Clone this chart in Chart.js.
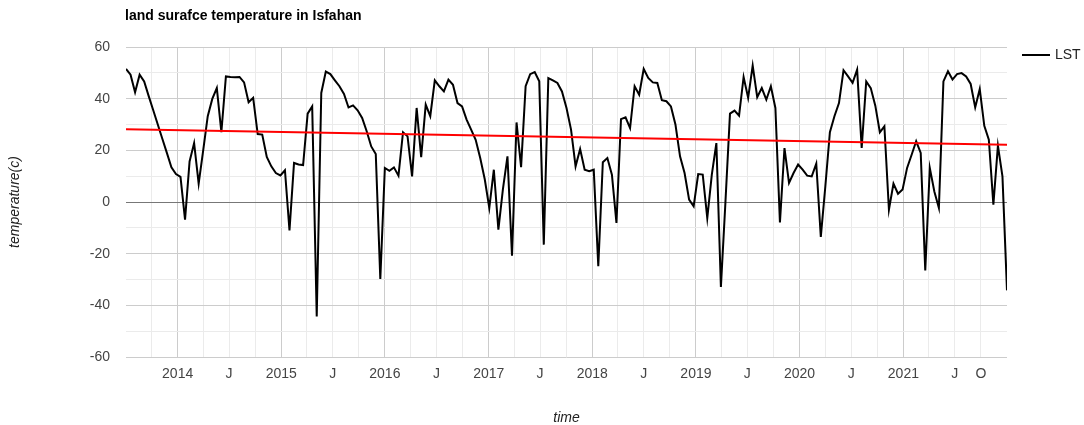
<!DOCTYPE html>
<html>
<head>
<meta charset="utf-8">
<script src="https://cdn.jsdelivr.net/npm/chart.js@4.4.0/dist/chart.umd.min.js"></script>
<style>
  html, body { margin: 0; padding: 0; background: #fff; }
</style>
</head>
<body>
<canvas id="lst-chart" width="1084" height="425"></canvas>
<script>
// 16-day scene dates
var dates = [
  '2013-07-03','2013-07-19','2013-08-04','2013-08-20','2013-09-05','2013-09-21','2013-10-07','2013-10-23','2013-11-08','2013-11-24','2013-12-10','2013-12-26',
  '2014-01-11','2014-01-27','2014-02-12','2014-02-28','2014-03-16','2014-04-01','2014-04-17','2014-05-03','2014-05-19','2014-06-04','2014-06-20','2014-07-06','2014-07-22','2014-08-07','2014-08-23','2014-09-08','2014-09-24','2014-10-10','2014-10-26','2014-11-11','2014-11-27','2014-12-13','2014-12-29',
  '2015-01-14','2015-01-30','2015-02-15','2015-03-03','2015-03-19','2015-04-04','2015-04-20','2015-05-06','2015-05-22','2015-06-07','2015-06-23','2015-07-09','2015-07-25','2015-08-10','2015-08-26','2015-09-11','2015-09-27','2015-10-13','2015-10-29','2015-11-14','2015-11-30','2015-12-16',
  '2016-01-01','2016-01-17','2016-02-02','2016-02-18','2016-03-05','2016-03-21','2016-04-06','2016-04-22','2016-05-08','2016-05-24','2016-06-09','2016-06-25','2016-07-11','2016-07-27','2016-08-12','2016-08-28','2016-09-13','2016-09-29','2016-10-15','2016-10-31','2016-11-16','2016-12-02','2016-12-18',
  '2017-01-03','2017-01-19','2017-02-04','2017-02-20','2017-03-08','2017-03-24','2017-04-09','2017-04-25','2017-05-11','2017-05-27','2017-06-12','2017-06-28','2017-07-14','2017-07-30','2017-08-15','2017-08-31','2017-09-16','2017-10-02','2017-10-18','2017-11-03','2017-11-19','2017-12-05','2017-12-21',
  '2018-01-06','2018-01-22','2018-02-07','2018-02-23','2018-03-11','2018-03-27','2018-04-12','2018-04-28','2018-05-14','2018-05-30','2018-06-15','2018-07-01','2018-07-17','2018-08-02','2018-08-18','2018-09-03','2018-09-19','2018-10-05','2018-10-21','2018-11-06','2018-11-22','2018-12-08','2018-12-24',
  '2019-01-09','2019-01-25','2019-02-10','2019-02-26','2019-03-14','2019-03-30','2019-04-15','2019-05-01','2019-05-17','2019-06-02','2019-06-18','2019-07-04','2019-07-20','2019-08-05','2019-08-21','2019-09-06','2019-09-22','2019-10-08','2019-10-24','2019-11-09','2019-11-25','2019-12-11','2019-12-27',
  '2020-01-12','2020-01-28','2020-02-13','2020-02-29','2020-03-16','2020-04-01','2020-04-17','2020-05-03','2020-05-19','2020-06-04','2020-06-20','2020-07-06','2020-07-22','2020-08-07','2020-08-23','2020-09-08','2020-09-24','2020-10-10','2020-10-26','2020-11-11','2020-11-27','2020-12-13','2020-12-29',
  '2021-01-14','2021-01-30','2021-02-15','2021-03-03','2021-03-19','2021-04-04','2021-04-20','2021-05-06','2021-05-22','2021-06-07','2021-06-23','2021-07-09','2021-07-25','2021-08-10','2021-08-26','2021-09-11','2021-09-27','2021-10-13','2021-10-29','2021-11-14','2021-11-30','2021-12-16',
  '2022-01-01'
];

// land surface temperature (c)
var lst = [
  51.5, 49.3, 42.5, 49.3, 46.7, 41, 35.5, 30, 24.5, 19, 13.4, 10.8,
  9.7, -6.8, 15.7, 22.8, 7.1, 20, 33.2, 39.9, 44.1, 27, 48.6, 48.4, 48.3, 48.4, 46.3, 38.6, 40.3, 26.3, 26.1, 17.4, 13.8, 11.2, 10.3,
  12.3, -11, 15.1, 14.5, 14.3, 34.2, 37, -44.3, 42.2, 50.5, 49.5, 47.1, 44.8, 41.8, 36.6, 37.4, 35.5, 32.5, 27.4, 21.5, 18.6, -29.8,
  13.2, 12.1, 13.4, 10.2, 27, 25.4, 9.9, 36.4, 17.4, 37.7, 33.2, 47.1, 44.8, 42.8, 47.4, 45.4, 38.3, 37, 31.9, 28, 24.1, 17, 8.8,
  -2.3, 12.5, -10.7, 5, 17.7, -20.8, 30.8, 13.5, 44.8, 49.5, 50.3, 46.7, -16.5, 48, 47.1, 46.1, 42.8, 36.4, 28, 13.8, 20.5, 12.5, 11.9,
  12.5, -24.9, 15.4, 17, 10.6, -8.1, 32.1, 32.8, 28.6, 44.8, 41.5, 51.5, 48, 46.3, 46.1, 39.4, 39, 37, 29.9, 17.7, 11.2, 0.9, -1.7,
  10.8, 10.6, -6.2, 10.6, 22.8, -32.9, 0, 34.2, 35.4, 33.4, 48.4, 40.3, 52.8, 40.6, 44.1, 39.6, 44.8, 36.4, -7.9, 20.9, 7.4, 11.2, 14.5,
  12.5, 10.2, 9.9, 14.8, -13.5, 6.1, 27, 33.2, 38.3, 51, 48.6, 46.1, 51.2, 20.9, 46.7, 44.1, 37.3, 27, 29.3, -3, 7.1, 3.2, 4.8,
  13.2, 18.3, 23.5, 19, -26.5, 13.2, 4.1, -2.3, 46.7, 50.6, 47.4, 49.5, 49.9, 48.6, 45.7, 36.6, 43.7, 29.5, 24.1, -1, 21.8, 9.9,
  -34.2
];

// linear trend line (end points)
var trendDates = ['2013-07-03', '2022-01-01'];
var trendValues = [28.2, 22.2];

// x axis labels
var xLabelDates = ['2014-01-01','2014-07-01','2015-01-01','2015-07-01','2016-01-01','2016-07-01','2017-01-01','2017-07-01',
  '2018-01-01','2018-07-01','2019-01-01','2019-07-01','2020-01-01','2020-07-01','2021-01-01','2021-07-01','2021-10-01'];
var xLabels = ['2014','J','2015','J','2016','J','2017','J','2018','J','2019','J','2020','J','2021','J','O'];

var chartTitle = 'land surafce temperature in Isfahan';
var seriesName = 'LST';

var FONT = '"Liberation Sans", Arial, sans-serif';
Chart.defaults.font.family = FONT;

var lstPoints = [];
for (var i = 0; i < dates.length; i++) {
  lstPoints.push({ x: Date.parse(dates[i]), y: lst[i] });
}
var trendPoints = [];
for (var j = 0; j < trendDates.length; j++) {
  trendPoints.push({ x: Date.parse(trendDates[j]), y: trendValues[j] });
}

var labelMap = {};
for (var k = 0; k < xLabelDates.length; k++) {
  labelMap[Date.parse(xLabelDates[k])] = xLabels[k];
}

// title + legend drawn on the canvas
var extras = {
  id: 'extras',
  afterDraw: function (chart) {
    var ctx = chart.ctx;
    ctx.save();
    ctx.fillStyle = '#000';
    ctx.font = 'bold 14px ' + FONT;
    ctx.textBaseline = 'middle';
    ctx.textAlign = 'left';
    ctx.fillText(chartTitle, 125, 16);

    ctx.strokeStyle = '#000';
    ctx.lineWidth = 2;
    ctx.beginPath();
    ctx.moveTo(1022, 55);
    ctx.lineTo(1050, 55);
    ctx.stroke();
    ctx.fillStyle = '#222';
    ctx.font = '14px ' + FONT;
    ctx.fillText(seriesName, 1055, 55);
    ctx.restore();
  }
};

new Chart(document.getElementById('lst-chart'), {
  type: 'line',
  data: {
    datasets: [
      {
        label: 'trend',
        data: trendPoints,
        borderColor: '#ff0000',
        borderWidth: 2,
        pointRadius: 0,
        fill: false
      },
      {
        label: seriesName,
        data: lstPoints,
        borderColor: '#000000',
        borderWidth: 2,
        pointRadius: 0,
        tension: 0,
        fill: false
      }
    ]
  },
  options: {
    responsive: false,
    animation: false,
    layout: { padding: { top: 47, right: 77, bottom: 0, left: 0 } },
    plugins: {
      legend: { display: false },
      tooltip: { enabled: false }
    },
    scales: {
      x: {
        type: 'linear',
        min: Date.parse(dates[0]),
        max: Date.parse(dates[dates.length - 1]),
        afterFit: function (s) { s.height = 68; },
        afterBuildTicks: function (s) {
          var ticks = [];
          for (var y = 2013; y <= 2021; y++) {
            for (var m = 0; m < 12; m += 3) {
              var t = Date.UTC(y, m, 1);
              if (t > s.min && t < s.max) ticks.push({ value: t });
            }
          }
          s.ticks = ticks;
        },
        border: { display: false },
        grid: {
          drawTicks: false,
          color: function (ctx) {
            if (!ctx.tick) return '#ebebeb';
            return new Date(ctx.tick.value).getUTCMonth() === 0 ? '#cccccc' : '#ebebeb';
          }
        },
        ticks: {
          autoSkip: false,
          maxRotation: 0,
          padding: 9,
          color: '#444',
          font: { size: 14 },
          callback: function (v) { return labelMap[v] || ''; }
        },
        title: {
          display: true,
          text: 'time',
          color: '#222',
          font: { size: 14, style: 'italic' },
          padding: { top: 0, bottom: -2 }
        }
      },
      y: {
        min: -60,
        max: 60,
        afterFit: function (s) { s.width = 126; },
        border: { display: false },
        grid: {
          drawTicks: false,
          color: function (ctx) {
            if (!ctx.tick) return '#ebebeb';
            if (ctx.tick.value === 0) return '#777777';
            return ctx.tick.value % 20 === 0 ? '#cccccc' : '#ebebeb';
          }
        },
        ticks: {
          stepSize: 10,
          autoSkip: false,
          padding: 16,
          color: '#444',
          font: { size: 14 },
          callback: function (v) { return v % 20 === 0 ? v : ''; }
        },
        title: {
          display: true,
          text: 'temperature(c)',
          color: '#222',
          font: { size: 14, style: 'italic' },
          padding: { top: 7, bottom: 0 }
        }
      }
    }
  },
  plugins: [extras]
});
</script>
</body>
</html>
